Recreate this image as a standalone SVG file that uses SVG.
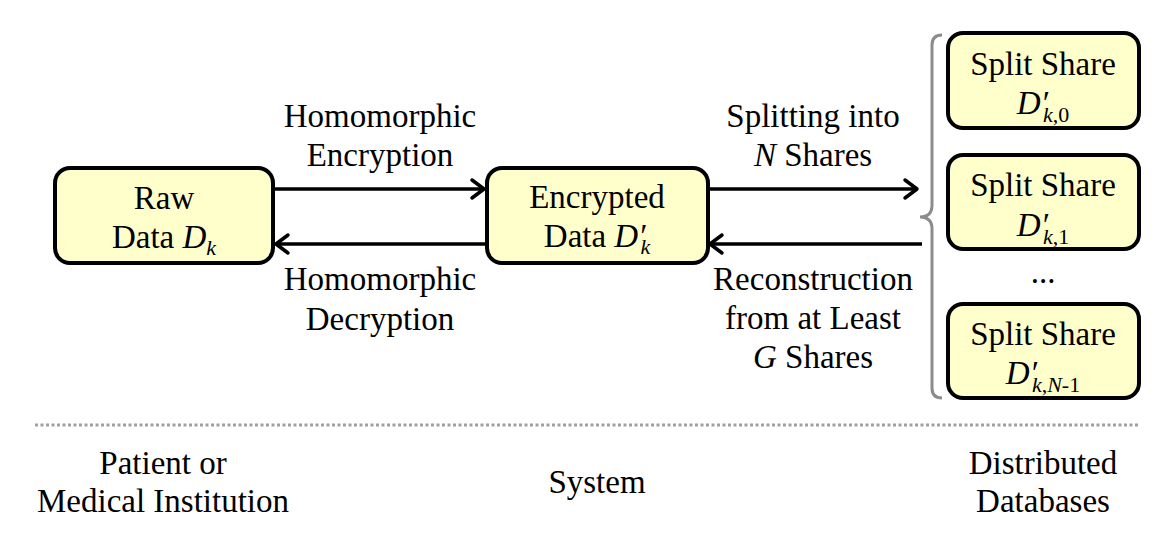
<svg xmlns="http://www.w3.org/2000/svg" width="1169" height="544" viewBox="0 0 1169 544" font-family="'Liberation Serif', serif">
<style>
text{font-family:'Liberation Serif',serif;font-size:33px;fill:#000;text-anchor:middle}
.i{font-style:italic}
.s{font-size:22px}
.box{fill:#FFFFCC;stroke:#000;stroke-width:4}
.ln{fill:none;stroke:#000;stroke-width:3.5}
.hd{fill:none;stroke:#000;stroke-width:3.5;stroke-linecap:round;stroke-linejoin:round}
</style>
<rect width="1169" height="544" fill="#fff"/>
<g id="connectors">
<line class="ln" x1="273" y1="189" x2="484" y2="189"/>
<polyline class="hd" points="472,180 484,189 472,198"/>
<line class="ln" x1="487" y1="244" x2="276" y2="244"/>
<polyline class="hd" points="288,235 276,244 288,253"/>
<line class="ln" x1="708" y1="189" x2="917" y2="189"/>
<polyline class="hd" points="905,180 917,189 905,198"/>
<line class="ln" x1="922" y1="244" x2="710" y2="244"/>
<polyline class="hd" points="722,235 710,244 722,253"/>
<text x="380" y="127">Homomorphic</text>
<text x="380" y="166">Encryption</text>
<text x="380" y="290">Homomorphic</text>
<text x="380" y="330">Decryption</text>
<text x="813" y="127">Splitting into</text>
<text x="813" y="166"><tspan class="i">N</tspan> Shares</text>
<text x="813" y="290">Reconstruction</text>
<text x="813" y="329">from at Least</text>
<text x="813" y="368"><tspan class="i">G</tspan> Shares</text>
</g>
<g id="brace">
<path d="M942 35 Q932 35 932 45 L932 205 Q932 217 920 217 Q932 217 932 229 L932 388 Q932 398 942 398" fill="none" stroke="#8C8C8C" stroke-width="3"/>
</g>
<g id="raw">
<rect class="box" x="55" y="168" width="218" height="95" rx="15"/>
<text x="164" y="209">Raw</text>
<text x="164" y="248">Data <tspan class="i">D</tspan><tspan class="i s" dy="7">k</tspan></text>
</g>
<g id="encrypted">
<rect class="box" x="487" y="168" width="221" height="95" rx="15"/>
<text x="597" y="208">Encrypted</text>
<text x="597" y="247">Data <tspan class="i">D′</tspan><tspan class="i s" dx="-5" dy="7">k</tspan></text>
</g>
<g id="share0">
<rect class="box" x="948" y="33" width="191" height="95" rx="15"/>
<text x="1043" y="75">Split Share</text>
<text x="1043" y="114"><tspan class="i">D′</tspan><tspan class="i s" dx="-5" dy="8">k</tspan><tspan class="s">,0</tspan></text>
</g>
<g id="share1">
<rect class="box" x="948" y="155" width="191" height="94" rx="15"/>
<text x="1043" y="196">Split Share</text>
<text x="1043" y="236"><tspan class="i">D′</tspan><tspan class="i s" dx="-5" dy="8">k</tspan><tspan class="s">,1</tspan></text>
</g>
<text x="1043" y="283">...</text>
<g id="shareN">
<rect class="box" x="948" y="304" width="191" height="94" rx="15"/>
<text x="1043" y="345">Split Share</text>
<text x="1043" y="384"><tspan class="i">D′</tspan><tspan class="i s" dx="-5" dy="8">k</tspan><tspan class="s">,</tspan><tspan class="i s">N</tspan><tspan class="s">-1</tspan></text>
</g>
<line x1="35" y1="425" x2="1138" y2="425" stroke="#A0A0A0" stroke-width="3" stroke-dasharray="3 2.5"/>
<g id="labels">
<text x="163" y="474">Patient or</text>
<text x="163" y="512">Medical Institution</text>
<text x="597" y="493">System</text>
<text x="1043" y="474">Distributed</text>
<text x="1043" y="512">Databases</text>
</g>
</svg>
